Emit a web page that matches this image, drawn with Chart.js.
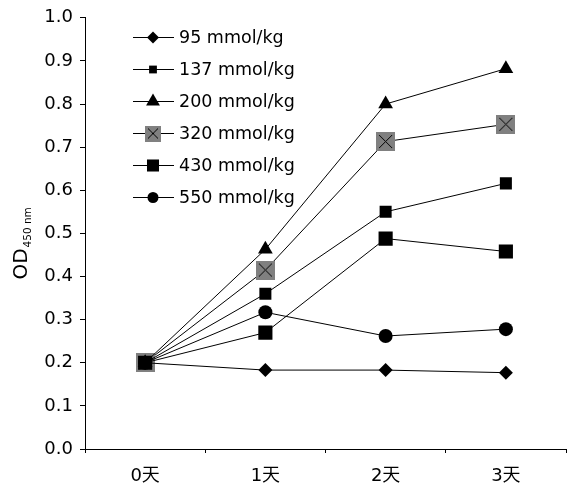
<!DOCTYPE html>
<html><head><meta charset="utf-8">
<script src="https://cdn.jsdelivr.net/npm/chart.js@4/dist/chart.umd.min.js"></script>
<style>html,body{margin:0;padding:0;background:#fff}#wrap{width:576px;height:490px}</style>
</head><body><div id="wrap"><canvas id="c" width="576" height="490"></canvas></div>
<script>
const categories = ['0天', '1天', '2天', '3天'];
const seriesLabels = ['95 mmol/kg', '137 mmol/kg', '200 mmol/kg', '320 mmol/kg', '430 mmol/kg', '550 mmol/kg'];
const s95  = [0.200, 0.183, 0.183, 0.177];
const s137 = [0.200, 0.360, 0.550, 0.616];
const s200 = [0.200, 0.463, 0.800, 0.882];
const s320 = [0.200, 0.415, 0.713, 0.753];
const s430 = [0.200, 0.270, 0.488, 0.458];
const s550 = [0.200, 0.317, 0.262, 0.278];
const yTicks = [0, 0.1, 0.2, 0.3, 0.4, 0.5, 0.6, 0.7, 0.8, 0.9, 1.0];

const FONT = "'DejaVu Sans', 'Noto Sans CJK SC', sans-serif";

function grayX(size) {
  const c = document.createElement('canvas');
  c.width = size; c.height = size;
  const x = c.getContext('2d');
  x.fillStyle = '#808080';
  x.fillRect(0, 0, size, size);
  x.strokeStyle = '#000'; x.lineWidth = 1;
  x.beginPath();
  x.moveTo(3, 3); x.lineTo(size - 3, size - 3);
  x.moveTo(size - 3, 3); x.lineTo(3, size - 3);
  x.stroke();
  return c;
}
const mark320 = grayX(19);
const mark320Legend = grayX(16);

const styles = [
  {pointStyle: 'rectRot', radius: 7, legendR: 6},
  {pointStyle: 'rect', radius: 8.5, legendR: 5.5},
  {pointStyle: 'triangle', radius: 8.5, legendR: 8},
  {pointStyle: mark320, radius: 9, legendR: 8},
  {pointStyle: 'rect', radius: 10, legendR: 8.5},
  {pointStyle: 'circle', radius: 7, legendR: 5.5}
];
const allData = [s95, s137, s200, s320, s430, s550];

const datasets = allData.map((d, i) => ({
  label: seriesLabels[i],
  data: d,
  borderColor: '#000',
  borderWidth: 1,
  backgroundColor: '#000',
  pointStyle: styles[i].pointStyle,
  pointRadius: styles[i].radius,
  pointHoverRadius: styles[i].radius,
  pointBackgroundColor: '#000',
  pointBorderColor: '#000',
  pointBorderWidth: 0,
  order: i === 3 ? 1 : 0,
  tension: 0,
  fill: false
}));

function drawMarker(ctx, style, x, y, r) {
  ctx.save();
  ctx.fillStyle = '#000';
  ctx.beginPath();
  if (style === 'rectRot') {
    ctx.moveTo(x - r, y); ctx.lineTo(x, y - r); ctx.lineTo(x + r, y); ctx.lineTo(x, y + r); ctx.closePath(); ctx.fill();
  } else if (style === 'rect') {
    const s = r * Math.SQRT1_2;
    ctx.fillRect(x - s, y - s, 2 * s, 2 * s);
  } else if (style === 'triangle') {
    for (let k = 0; k < 3; k++) {
      const a = k * 2 * Math.PI / 3;
      const px = x + Math.sin(a) * r, py = y - Math.cos(a) * r;
      if (k === 0) ctx.moveTo(px, py); else ctx.lineTo(px, py);
    }
    ctx.closePath(); ctx.fill();
  } else if (style === 'circle') {
    ctx.arc(x, y, r, 0, Math.PI * 2); ctx.fill();
  } else {
    ctx.drawImage(style, x - style.width / 2, y - style.height / 2);
  }
  ctx.restore();
}

const legendPlugin = {
  id: 'customLegend',
  afterDatasetsDraw(chart) {
    const ctx = chart.ctx;
    const x0 = 133, x1 = 174, xm = 153, tx = 179;
    const rows = [37, 69, 101, 133, 165, 197];
    ctx.save();
    ctx.font = '17.5px ' + FONT;
    ctx.textBaseline = 'middle';
    ctx.fillStyle = '#000';
    seriesLabels.forEach((lab, i) => {
      const y = rows[i];
      ctx.strokeStyle = '#000'; ctx.lineWidth = 1;
      ctx.beginPath(); ctx.moveTo(x0, y + 0.5); ctx.lineTo(x1, y + 0.5); ctx.stroke();
      const st = i === 3 ? mark320Legend : styles[i].pointStyle;
      drawMarker(ctx, st, xm, y + 0.5, styles[i].legendR);
      ctx.fillText(lab, tx, y + 1);
    });
    ctx.restore();
  }
};

const yTitlePlugin = {
  id: 'yTitle',
  afterDraw(chart) {
    const ctx = chart.ctx;
    const a = chart.chartArea;
    ctx.save();
    ctx.translate(22, (a.top + a.bottom) / 2 + 10);
    ctx.rotate(-Math.PI / 2);
    ctx.fillStyle = '#000';
    ctx.textBaseline = 'middle';
    ctx.font = '20px ' + FONT;
    const w1 = ctx.measureText('OD').width;
    ctx.font = '10.5px ' + FONT;
    const w2 = ctx.measureText('450 nm').width;
    const start = -(w1 + w2 + 1) / 2;
    ctx.font = '20px ' + FONT;
    ctx.textAlign = 'left';
    ctx.fillText('OD', start, 0);
    ctx.font = '10.5px ' + FONT;
    ctx.fillText('450 nm', start + w1 + 1, 6);
    ctx.restore();
  }
};

new Chart(document.getElementById('c'), {
  type: 'line',
  data: { labels: categories, datasets: datasets },
  options: {
    responsive: false,
    animation: false,
    devicePixelRatio: 1,
    layout: { padding: { top: 14, right: 5, left: 0, bottom: 0 } },
    plugins: { legend: { display: false }, tooltip: { enabled: false } },
    scales: {
      x: {
        type: 'category',
        offset: true,
        grid: { offset: true, drawOnChartArea: false, drawTicks: true, tickLength: 4, color: '#000', tickColor: '#000' },
        border: { display: true, color: '#000', width: 1 },
        ticks: { color: '#000', font: { family: FONT, size: 18 }, padding: 13, maxRotation: 0 },
        afterFit(s) { s.height = 41; }
      },
      y: {
        min: 0, max: 1.0,
        afterBuildTicks(s) { s.ticks = yTicks.map(v => ({ value: v })); },
        grid: { drawOnChartArea: false, drawTicks: true, tickLength: 5, color: '#000', tickColor: '#000' },
        border: { display: true, color: '#000', width: 1 },
        ticks: { color: '#000', font: { family: FONT, size: 18 }, padding: 7, callback: v => v.toFixed(1) },
        afterFit(s) { s.width = 85; }
      }
    }
  },
  plugins: [legendPlugin, yTitlePlugin]
});
</script>
</body></html>
